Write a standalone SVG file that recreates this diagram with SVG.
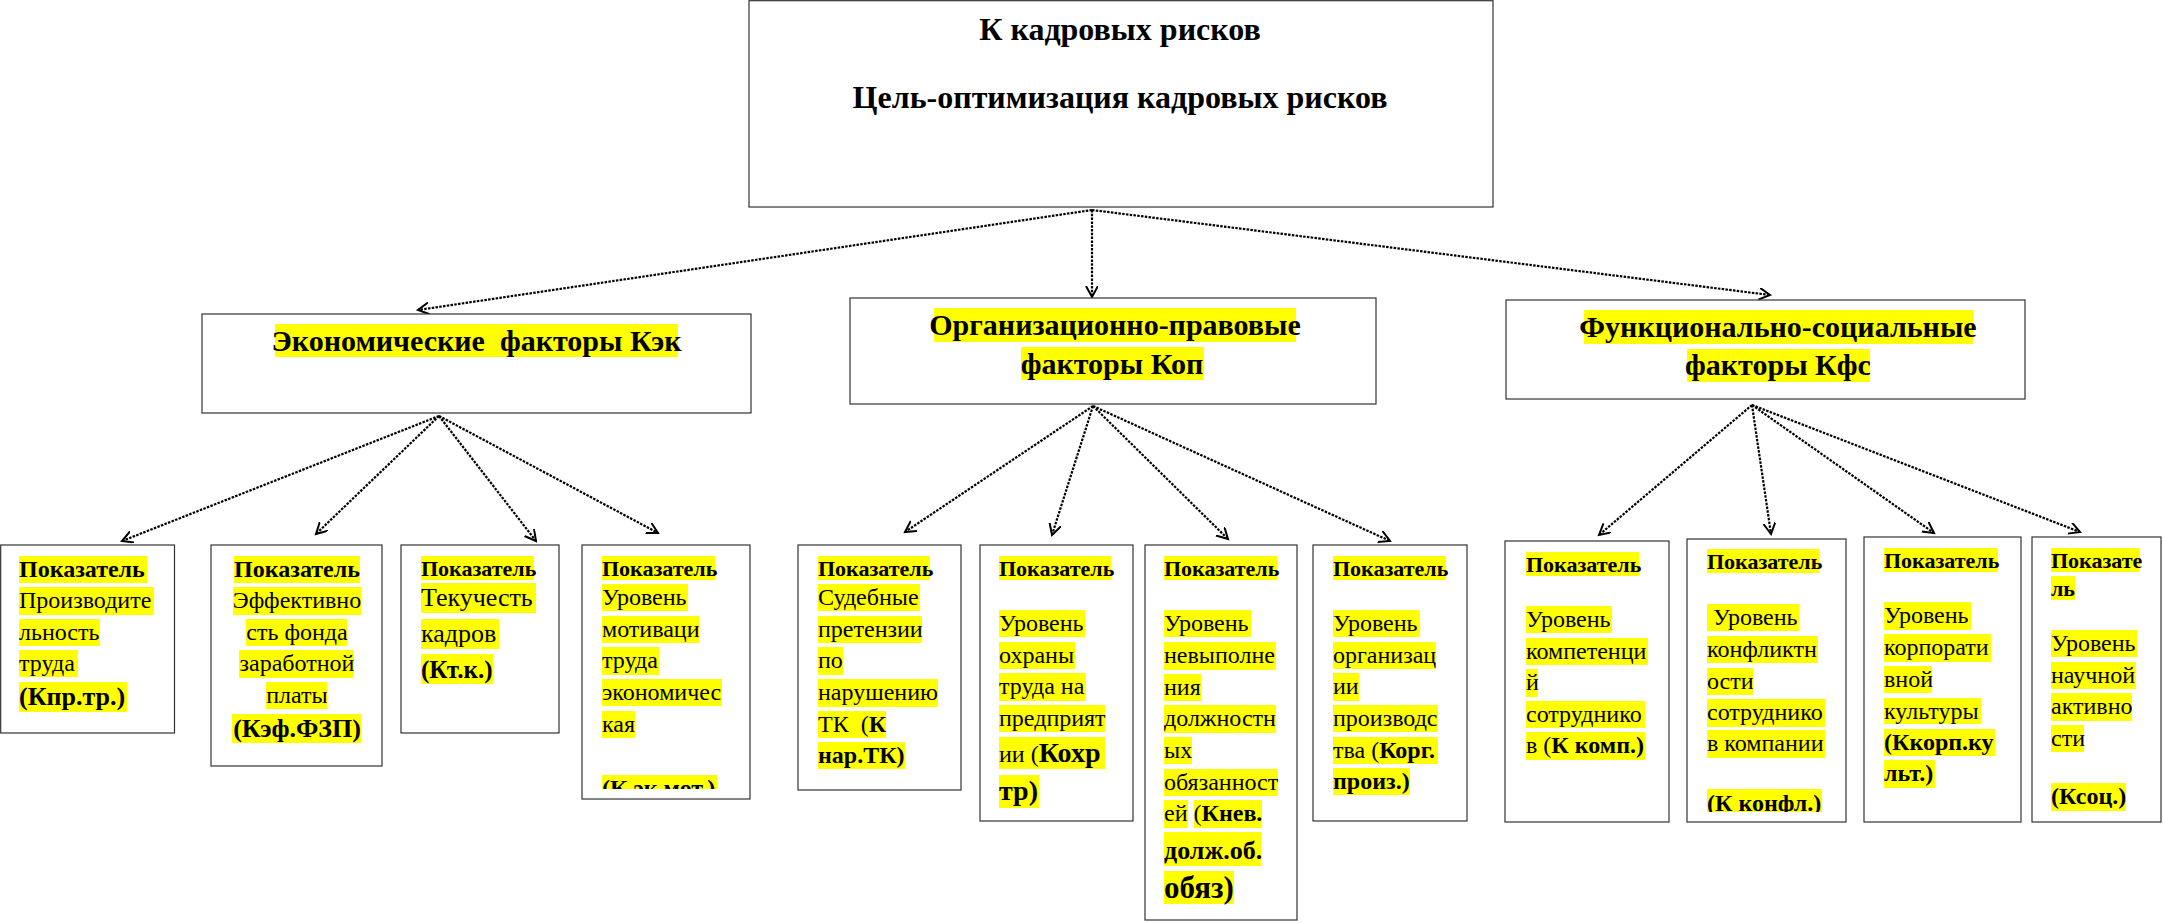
<svg xmlns="http://www.w3.org/2000/svg" width="2163" height="923" viewBox="0 0 2163 923">
<style>
text{font-family:"Liberation Serif","Times New Roman",serif;fill:#000;white-space:pre}
.box{fill:#fff;stroke:#333;stroke-width:1.2}
.hl{fill:#ffff00}
.r{font-size:24px}
.b{font-weight:bold}
.p{font-size:22px;font-weight:bold}
.h2{font-size:30px;font-weight:bold}
.h1{font-size:32px;font-weight:bold}
.c{text-anchor:middle}
.con line{stroke:#000;stroke-width:2.2;stroke-dasharray:2.5 1.3;marker-end:url(#ah)}
</style>
<defs>
<marker id="ah" markerUnits="userSpaceOnUse" markerWidth="16" markerHeight="16" refX="11" refY="6" orient="auto">
<path d="M0,0 L11,6 L0,12" fill="none" stroke="#000" stroke-width="2"/>
</marker>
<clipPath id="clip4"><rect x="582" y="545" width="168" height="244"/></clipPath>
<clipPath id="clip10"><rect x="1687" y="539" width="159" height="273"/></clipPath>
</defs>

<g id="connectors" class="con">
<line x1="1092" y1="210" x2="418" y2="310"/>
<line x1="1092" y1="210" x2="1092" y2="297"/>
<line x1="1092" y1="210" x2="1770" y2="295"/>
<line x1="439" y1="416" x2="122" y2="541"/>
<line x1="439" y1="416" x2="316" y2="534"/>
<line x1="439" y1="416" x2="536" y2="541"/>
<line x1="439" y1="416" x2="658" y2="533"/>
<line x1="1093" y1="406" x2="905" y2="532"/>
<line x1="1093" y1="406" x2="1052" y2="535"/>
<line x1="1093" y1="406" x2="1228" y2="539"/>
<line x1="1093" y1="406" x2="1390" y2="541"/>
<line x1="1752" y1="405" x2="1599" y2="535"/>
<line x1="1752" y1="405" x2="1771" y2="534"/>
<line x1="1752" y1="405" x2="1934" y2="533"/>
<line x1="1752" y1="405" x2="2080" y2="532"/>
</g>

<g id="top">
<rect class="box" x="749" y="0.7" width="744" height="206.3"/>
<text class="h1 c" x="1120" y="40">К кадровых рисков</text>
<text class="h1 c" x="1120" y="108">Цель-оптимизация кадровых рисков</text>
</g>

<g id="econ">
<rect class="box" x="202" y="314" width="549" height="99"/>
<rect class="hl" x="275" y="324" width="403" height="33"/>
<text class="h2 c" x="476.5" y="351">Экономические  факторы Кэк</text>
</g>

<g id="org">
<rect class="box" x="850" y="298" width="526" height="106"/>
<rect class="hl" x="934" y="308" width="362" height="34"/>
<rect class="hl" x="1021" y="347" width="183" height="33"/>
<text class="h2 c" x="1115" y="335">Организационно-правовые</text>
<text class="h2 c" x="1112" y="374">факторы Коп</text>
</g>

<g id="func">
<rect class="box" x="1506" y="300" width="519" height="99"/>
<rect class="hl" x="1584" y="310" width="389" height="34"/>
<rect class="hl" x="1687" y="349" width="183" height="33"/>
<text class="h2 c" x="1778" y="337">Функционально-социальные</text>
<text class="h2 c" x="1778" y="375">факторы Кфс</text>
</g>

<g id="k1">
<rect class="box" x="0.7" y="545" width="173.8" height="188"/>
<rect class="hl" x="19" y="556" width="128" height="27"/>
<rect class="hl" x="19" y="587" width="135" height="28"/>
<rect class="hl" x="19" y="619" width="81" height="27"/>
<rect class="hl" x="19" y="650" width="59" height="27"/>
<rect class="hl" x="19" y="682" width="108" height="30"/>
<text class="r b" x="19" y="577">Показатель</text>
<text class="r" x="19" y="608">Производите</text>
<text class="r" x="19" y="640">льность</text>
<text class="r" x="19" y="671">труда</text>
<text class="b" style="font-size:26px" x="19" y="705">(Кпр.тр.)</text>
</g>

<g id="k2">
<rect class="box" x="211" y="545" width="171" height="221"/>
<rect class="hl" x="234" y="556" width="126" height="27"/>
<rect class="hl" x="233" y="587" width="128" height="28"/>
<rect class="hl" x="246" y="619" width="101" height="27"/>
<rect class="hl" x="239" y="650" width="115" height="28"/>
<rect class="hl" x="266" y="682" width="61" height="27"/>
<rect class="hl" x="232" y="714" width="129" height="29"/>
<text class="r b c" x="297" y="577">Показатель</text>
<text class="r c" x="297" y="608">Эффективно</text>
<text class="r c" x="297" y="640">сть фонда</text>
<text class="r c" x="297" y="671">заработной</text>
<text class="r c" x="297" y="703">платы</text>
<text class="b c" style="font-size:26px" x="297" y="737">(Кэф.ФЗП)</text>
</g>

<g id="k3">
<rect class="box" x="401" y="545" width="158" height="188"/>
<rect class="hl" x="421" y="556" width="113" height="24"/>
<rect class="hl" x="421" y="583" width="115" height="30"/>
<rect class="hl" x="421" y="619" width="78" height="30"/>
<rect class="hl" x="421" y="654" width="72" height="30"/>
<text class="p" x="421" y="575.5">Показатель</text>
<text style="font-size:26px" x="421" y="606">Текучесть</text>
<text style="font-size:26px" x="421" y="642">кадров</text>
<text class="b" style="font-size:25px" x="421" y="678">(Кт.к.)</text>
</g>

<g id="k4">
<rect class="box" x="582" y="545" width="168" height="254"/>
<rect class="hl" x="602" y="556" width="113" height="24"/>
<rect class="hl" x="602" y="584" width="86" height="27"/>
<rect class="hl" x="602" y="616" width="97" height="27"/>
<rect class="hl" x="602" y="647" width="57" height="28"/>
<rect class="hl" x="602" y="679" width="120" height="27"/>
<rect class="hl" x="602" y="711" width="33" height="27"/>
<rect class="hl" x="602" y="775" width="115" height="14"/>
<text class="p" x="602" y="575.5">Показатель</text>
<text class="r" x="602" y="605">Уровень</text>
<text class="r" x="602" y="637">мотиваци</text>
<text class="r" x="602" y="668">труда</text>
<text class="r" x="602" y="700">экономичес</text>
<text class="r" x="602" y="732">кая</text>
<text class="r b" x="602" y="796" clip-path="url(#clip4)">(К эк.мот.)</text>
</g>

<g id="k5">
<rect class="box" x="798" y="545" width="163" height="245"/>
<rect class="hl" x="818" y="556" width="112" height="24"/>
<rect class="hl" x="818" y="584" width="102" height="27"/>
<rect class="hl" x="818" y="616" width="104" height="27"/>
<rect class="hl" x="818" y="647" width="25" height="28"/>
<rect class="hl" x="818" y="679" width="120" height="28"/>
<rect class="hl" x="818" y="711" width="68" height="27"/>
<rect class="hl" x="818" y="742" width="87" height="27"/>
<text class="p" x="818" y="575.5">Показатель</text>
<text class="r" x="818" y="605">Судебные</text>
<text class="r" x="818" y="637">претензии</text>
<text class="r" x="818" y="668">по</text>
<text class="r" x="818" y="700">нарушению</text>
<text class="r" x="818" y="732">ТК  (<tspan class="b">К</tspan></text>
<text class="r b" x="818" y="763">нар.ТК)</text>
</g>

<g id="k6">
<rect class="box" x="980" y="545" width="153" height="276"/>
<rect class="hl" x="999" y="556" width="112" height="24"/>
<rect class="hl" x="999" y="610" width="86" height="27"/>
<rect class="hl" x="999" y="642" width="76" height="27"/>
<rect class="hl" x="999" y="673" width="87" height="28"/>
<rect class="hl" x="999" y="705" width="106" height="27"/>
<rect class="hl" x="999" y="737" width="106" height="32"/>
<rect class="hl" x="999" y="775" width="40" height="33"/>
<text class="p" x="999" y="575.5">Показатель</text>
<text class="r" x="999" y="631">Уровень</text>
<text class="r" x="999" y="663">охраны</text>
<text class="r" x="999" y="694">труда на</text>
<text class="r" x="999" y="726">предприят</text>
<text class="r" x="999" y="762">ии (<tspan class="b" style="font-size:28px">Кохр</tspan></text>
<text class="b" style="font-size:28px" x="999" y="800">тр)</text>
</g>

<g id="k7">
<rect class="box" x="1145" y="545" width="152" height="375"/>
<rect class="hl" x="1164" y="556" width="113" height="24"/>
<rect class="hl" x="1164" y="610" width="87" height="27"/>
<rect class="hl" x="1164" y="642" width="112" height="28"/>
<rect class="hl" x="1164" y="674" width="37" height="27"/>
<rect class="hl" x="1164" y="705" width="112" height="28"/>
<rect class="hl" x="1164" y="737" width="28" height="27"/>
<rect class="hl" x="1164" y="769" width="114" height="27"/>
<rect class="hl" x="1164" y="800" width="24" height="28"/>
<rect class="hl" x="1194" y="800" width="68" height="28"/>
<rect class="hl" x="1164" y="832" width="97" height="34"/>
<rect class="hl" x="1164" y="871" width="70" height="33"/>
<text class="p" x="1164" y="575.5">Показатель</text>
<text class="r" x="1164" y="631">Уровень</text>
<text class="r" x="1164" y="663">невыполне</text>
<text class="r" x="1164" y="695">ния</text>
<text class="r" x="1164" y="726">должностн</text>
<text class="r" x="1164" y="758">ых</text>
<text class="r" x="1164" y="790">обязанност</text>
<text class="r" x="1164" y="821">ей (<tspan class="b">Кнев.</tspan></text>
<text class="b" style="font-size:26px" x="1164" y="859">долж.об.</text>
<text class="b" style="font-size:31px" x="1164" y="898">обяз)</text>
</g>

<g id="k8">
<rect class="box" x="1313" y="545" width="154" height="276"/>
<rect class="hl" x="1333" y="556" width="113" height="24"/>
<rect class="hl" x="1333" y="610" width="87" height="27"/>
<rect class="hl" x="1333" y="642" width="103" height="27"/>
<rect class="hl" x="1333" y="673" width="26" height="28"/>
<rect class="hl" x="1333" y="705" width="105" height="27"/>
<rect class="hl" x="1333" y="737" width="105" height="27"/>
<rect class="hl" x="1333" y="768" width="77" height="27"/>
<text class="p" x="1333" y="575.5">Показатель</text>
<text class="r" x="1333" y="631">Уровень</text>
<text class="r" x="1333" y="663">организац</text>
<text class="r" x="1333" y="694">ии</text>
<text class="r" x="1333" y="726">производс</text>
<text class="r" x="1333" y="758">тва (<tspan class="b">Корг.</tspan></text>
<text class="r b" x="1333" y="789">произ.)</text>
</g>

<g id="k9">
<rect class="box" x="1505" y="541" width="164" height="281"/>
<rect class="hl" x="1526" y="552" width="113" height="24"/>
<rect class="hl" x="1526" y="606" width="86" height="27"/>
<rect class="hl" x="1526" y="638" width="122" height="27"/>
<rect class="hl" x="1526" y="669" width="12" height="28"/>
<rect class="hl" x="1526" y="701" width="119" height="27"/>
<rect class="hl" x="1526" y="732" width="119" height="28"/>
<text class="p" x="1526" y="571.5">Показатель</text>
<text class="r" x="1526" y="627">Уровень</text>
<text class="r" x="1526" y="659">компетенци</text>
<text class="r" x="1526" y="690">й</text>
<text class="r" x="1526" y="722">сотруднико</text>
<text class="r" x="1526" y="753">в (<tspan class="b">К комп.)</tspan></text>
</g>

<g id="k10">
<rect class="box" x="1687" y="539" width="159" height="283"/>
<rect class="hl" x="1707" y="549" width="112" height="24"/>
<rect class="hl" x="1707" y="604" width="92" height="27"/>
<rect class="hl" x="1707" y="636" width="111" height="27"/>
<rect class="hl" x="1707" y="668" width="46" height="27"/>
<rect class="hl" x="1707" y="699" width="118" height="28"/>
<rect class="hl" x="1707" y="730" width="118" height="28"/>
<rect class="hl" x="1707" y="789" width="115" height="23"/>
<text class="p" x="1707" y="568.5">Показатель</text>
<text class="r" x="1707" y="625"> Уровень</text>
<text class="r" x="1707" y="657">конфликтн</text>
<text class="r" x="1707" y="689">ости</text>
<text class="r" x="1707" y="720">сотруднико</text>
<text class="r" x="1707" y="751">в компании</text>
<text class="r b" x="1707" y="811" clip-path="url(#clip10)">(К конфл.)</text>
</g>

<g id="k11">
<rect class="box" x="1864" y="537" width="157" height="285"/>
<rect class="hl" x="1884" y="548" width="114" height="24"/>
<rect class="hl" x="1884" y="602" width="87" height="28"/>
<rect class="hl" x="1884" y="634" width="107" height="28"/>
<rect class="hl" x="1884" y="666" width="48" height="27"/>
<rect class="hl" x="1884" y="698" width="97" height="26"/>
<rect class="hl" x="1884" y="729" width="111" height="27"/>
<rect class="hl" x="1884" y="760" width="51" height="28"/>
<text class="p" x="1884" y="567.5">Показатель</text>
<text class="r" x="1884" y="623">Уровень</text>
<text class="r" x="1884" y="655">корпорати</text>
<text class="r" x="1884" y="687">вной</text>
<text class="r" x="1884" y="719">культуры</text>
<text class="r b" x="1884" y="750">(Ккорп.ку</text>
<text class="r b" x="1884" y="781">льт.)</text>
</g>

<g id="k12">
<rect class="box" x="2032" y="537" width="129" height="285"/>
<rect class="hl" x="2051" y="548" width="89" height="24"/>
<rect class="hl" x="2051" y="576" width="24" height="24"/>
<rect class="hl" x="2051" y="630" width="86" height="27"/>
<rect class="hl" x="2051" y="662" width="85" height="27"/>
<rect class="hl" x="2051" y="693" width="81" height="28"/>
<rect class="hl" x="2051" y="725" width="33" height="27"/>
<rect class="hl" x="2051" y="783" width="75" height="28"/>
<text class="p" x="2051" y="567.5">Показате</text>
<text class="p" x="2051" y="595.5">ль</text>
<text class="r" x="2051" y="651">Уровень</text>
<text class="r" x="2051" y="683">научной</text>
<text class="r" x="2051" y="714">активно</text>
<text class="r" x="2051" y="746">сти</text>
<text class="r b" x="2051" y="804">(Ксоц.)</text>
</g>
</svg>
